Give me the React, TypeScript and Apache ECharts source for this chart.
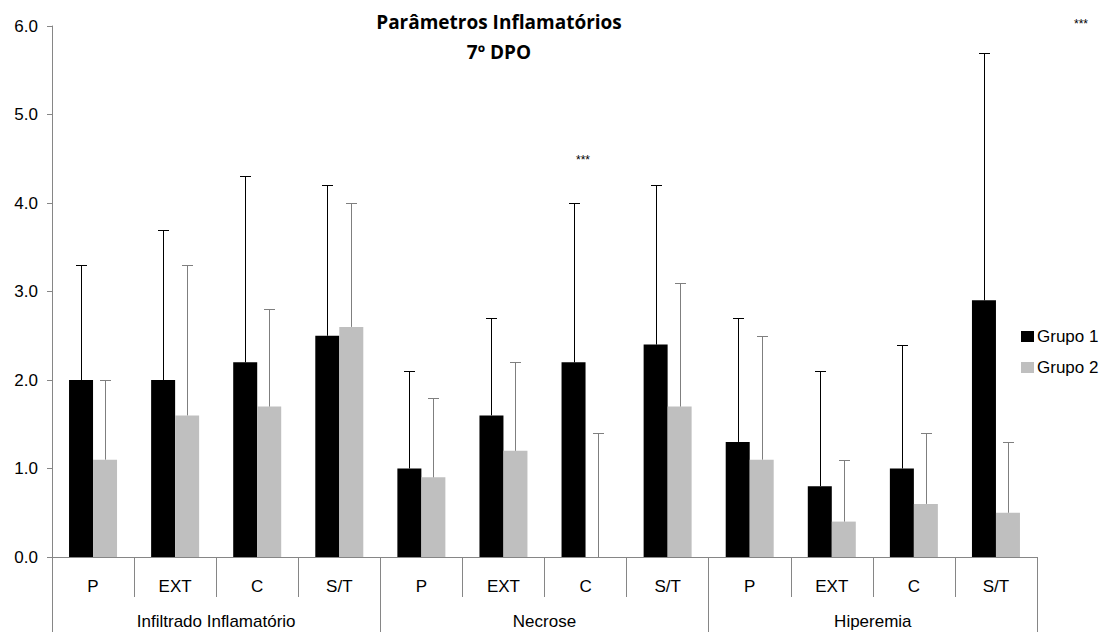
import React, { useEffect, useRef } from "react";
import * as echarts from "echarts";

const categories = ["P", "EXT", "C", "S/T", "P", "EXT", "C", "S/T", "P", "EXT", "C", "S/T"];
const groups = ["Infiltrado Inflamatório", "Necrose", "Hiperemia"];
const grupo1 = [2.0, 2.0, 2.2, 2.5, 1.0, 1.6, 2.2, 2.4, 1.3, 0.8, 1.0, 2.9];
const grupo2 = [1.1, 1.6, 1.7, 2.6, 0.9, 1.2, 0.0, 1.7, 1.1, 0.4, 0.6, 0.5];
const grupo1Upper = [3.3, 3.7, 4.3, 4.2, 2.1, 2.7, 4.0, 4.2, 2.7, 2.1, 2.4, 5.7];
const grupo2Upper = [2.0, 3.3, 2.8, 4.0, 1.8, 2.2, 1.4, 3.1, 2.5, 1.1, 1.4, 1.3];
const seriesNames = ["Grupo 1", "Grupo 2"];
const yTicks = [0, 1, 2, 3, 4, 5, 6];

const FONT = "'Liberation Sans', Arial, sans-serif";
const BAR_W = 24;

export default function App() {
  const ref = useRef<HTMLDivElement>(null);
  useEffect(() => {
    if (!ref.current) return;
    const chart = echarts.init(ref.current, undefined, { renderer: "svg" });

    const errSeries = (name: string, vals: number[], upper: number[], side: number, color: string) => ({
      type: "custom",
      name: name + " err",
      xAxisIndex: 0,
      yAxisIndex: 0,
      silent: true,
      z: 5,
      data: vals.map((v, i) => [i, v, upper[i]]),
      encode: { x: 0, y: [1, 2] },
      renderItem: (params: any, api: any) => {
        const i = api.value(0);
        const lo = api.coord([i, api.value(1)]);
        const hi = api.coord([i, api.value(2)]);
        const x = Math.round(lo[0] + side * (BAR_W / 2)) + 0.5;
        const hy = Math.round(hi[1]) + 0.5;
        return {
          type: "group",
          children: [
            { type: "line", shape: { x1: x, y1: lo[1], x2: x, y2: hy }, style: { stroke: color, lineWidth: 1 } },
            { type: "line", shape: { x1: x - 5.5, y1: hy, x2: x + 5.5, y2: hy }, style: { stroke: color, lineWidth: 1 } },
          ],
        };
      },
    });

    chart.setOption({
      animation: false,
      backgroundColor: "#ffffff",
      title: {
        text: "Parâmetros Inflamatórios\n7º DPO",
        left: 494,
        top: 2,
        textAlign: "center",
        textStyle: { fontFamily: "'Open Sans', sans-serif", fontSize: 19, fontWeight: "bold", color: "#000", lineHeight: 30 },
      },
      legend: {
        orient: "vertical",
        left: 1016,
        top: 323,
        itemWidth: 13,
        itemHeight: 11,
        itemGap: 14,
        icon: "rect",
        data: seriesNames,
        textStyle: { fontFamily: FONT, fontSize: 17, color: "#000", padding: [0, 0, 0, -2] },
      },
      grid: { left: 52, right: 68, top: 26, bottom: 75, containLabel: false },
      xAxis: [
        {
          type: "category",
          data: categories,
          axisLine: { lineStyle: { color: "#868686" } },
          axisTick: { show: true, interval: 0, length: 40, lineStyle: { color: "#868686" } },
          axisLabel: { interval: 0, margin: 21, fontFamily: FONT, fontSize: 17, color: "#000" },
        },
        {
          type: "category",
          data: groups,
          position: "bottom",
          offset: 40,
          axisLine: { show: false },
          axisTick: { show: true, interval: 0, length: 40, lineStyle: { color: "#868686" } },
          axisLabel: { interval: 0, margin: 16, fontFamily: FONT, fontSize: 17, color: "#000" },
        },
      ],
      yAxis: {
        type: "value",
        min: yTicks[0],
        max: yTicks[yTicks.length - 1],
        interval: 1,
        axisLine: { show: true, lineStyle: { color: "#868686" } },
        axisTick: { show: true, length: 5, lineStyle: { color: "#868686" } },
        splitLine: { show: false },
        axisLabel: { margin: 14, fontFamily: FONT, fontSize: 17, color: "#000", formatter: (v: number) => v.toFixed(1) },
      },
      series: [
        {
          type: "bar",
          name: seriesNames[0],
          data: grupo1,
          barWidth: BAR_W,
          barGap: "0%",
          itemStyle: { color: "#000000" },
        },
        {
          type: "bar",
          name: seriesNames[1],
          data: grupo2,
          barWidth: BAR_W,
          barGap: "0%",
          itemStyle: { color: "#BFBFBF" },
        },
        errSeries(seriesNames[0], grupo1, grupo1Upper, -1, "#000000"),
        errSeries(seriesNames[1], grupo2, grupo2Upper, 1, "#7F7F7F"),
      ],
      graphic: [
        { type: "text", x: 583, y: 160, style: { text: "***", fontFamily: FONT, fontSize: 12, fill: "#000", align: "center", verticalAlign: "middle" } },
        { type: "text", x: 1081, y: 24, style: { text: "***", fontFamily: FONT, fontSize: 12, fill: "#000", align: "center", verticalAlign: "middle" } },
      ],
    });
    return () => chart.dispose();
  }, []);
  return <div ref={ref} style={{ position: "fixed", left: 0, top: 0, width: 1105, height: 632 }} />;
}
